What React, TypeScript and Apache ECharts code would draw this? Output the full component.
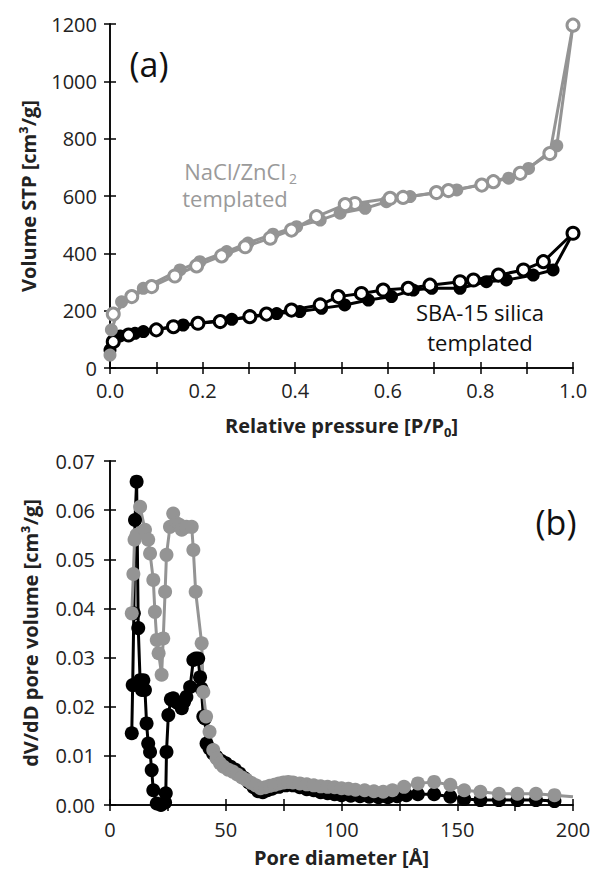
import React, { useEffect, useRef } from 'react';
import * as echarts from 'echarts';

// ---------- Panel (a): isotherms ----------
const xTicksA = [0, 0.2, 0.4, 0.6, 0.8, 1.0];
const yTicksA = [0, 200, 400, 600, 800, 1000, 1200];

const naclAdsP = [0, 0.003, 0.025, 0.072, 0.151, 0.194, 0.252, 0.298, 0.352, 0.403, 0.454, 0.497, 0.551, 0.597, 0.648, 0.749, 0.861, 0.904, 0.965, 1.0];
const naclAdsV = [45, 133, 231, 278, 342, 371, 406, 436, 467, 493, 516, 540, 557, 580, 598, 621, 662, 696, 775, 1196];
const naclDesP = [1.0, 0.95, 0.886, 0.828, 0.803, 0.731, 0.705, 0.633, 0.605, 0.529, 0.508, 0.446, 0.392, 0.346, 0.292, 0.241, 0.187, 0.14, 0.09, 0.047, 0.007];
const naclDesV = [1196, 748, 679, 650, 638, 619, 612, 595, 592, 574, 570, 528, 481, 453, 423, 391, 356, 321, 284, 249, 188];

const sbaAdsP = [0, 0.022, 0.054, 0.072, 0.158, 0.263, 0.36, 0.41, 0.457, 0.507, 0.558, 0.608, 0.655, 0.695, 0.756, 0.813, 0.856, 0.914, 0.957, 1.0];
const sbaAdsV = [63, 112, 121, 127, 150, 170, 190, 197, 208, 220, 237, 249, 272, 278, 278, 301, 307, 324, 342, 470];
const sbaDesP = [1.0, 0.936, 0.893, 0.839, 0.785, 0.756, 0.691, 0.644, 0.59, 0.543, 0.493, 0.454, 0.392, 0.338, 0.302, 0.238, 0.19, 0.137, 0.1, 0.04, 0.007];
const sbaDesV = [470, 371, 342, 324, 307, 301, 289, 278, 272, 260, 249, 220, 202, 188, 179, 162, 156, 144, 133, 115, 92];

// ---------- Panel (b): pore size distributions ----------
const xTicksB = [0, 50, 100, 150, 200];
const yTicksB = [0, 0.01, 0.02, 0.03, 0.04, 0.05, 0.06, 0.07];

const sbaD = [9.4, 9.8, 10.3, 10.8, 11.5, 12.2, 13, 13.8, 14.4, 15.1, 15.8, 16.5, 17.3, 18, 18.7, 20.2, 22, 23.8, 24.1, 24.4, 25.2, 26.3, 27.3, 28.4, 29.5, 31, 32, 33, 34.6, 36, 37, 38.1, 38.9, 39.5, 40.3, 41, 41.7, 43, 44.5, 46, 48, 50, 52, 54, 56, 58, 60, 62, 64, 66, 68, 70, 73, 76, 79, 82, 85, 88, 91, 94, 97, 100, 104, 108, 112, 116, 120, 124, 128, 133, 140, 147, 153, 160, 168, 176, 184, 192];
const sbaDV = [0.0146, 0.0244, 0.039, 0.058, 0.0658, 0.036, 0.0254, 0.0234, 0.0254, 0.0234, 0.0166, 0.0125, 0.0108, 0.0071, 0.003, 0.0003, 0, 0.0005, 0.0024, 0.0108, 0.0183, 0.0215, 0.0217, 0.021, 0.0207, 0.0197, 0.021, 0.022, 0.024, 0.0295, 0.0298, 0.0298, 0.026, 0.0237, 0.018, 0.0176, 0.0125, 0.0115, 0.0105, 0.0098, 0.009, 0.0085, 0.0078, 0.0072, 0.0064, 0.0055, 0.0046, 0.0036, 0.0028, 0.0026, 0.003, 0.0033, 0.0037, 0.004, 0.004, 0.0036, 0.0032, 0.003, 0.0026, 0.0024, 0.0022, 0.002, 0.0019, 0.0018, 0.0017, 0.0016, 0.0016, 0.0018, 0.002, 0.0022, 0.0022, 0.0017, 0.0012, 0.001, 0.001, 0.001, 0.001, 0.0008];

const naclD = [9.4, 10.1, 10.6, 11.5, 13, 15.1, 16.5, 17.3, 18.7, 19.4, 20.2, 21, 22.3, 23, 23.8, 24.4, 25.9, 27.3, 28.8, 30, 31, 33, 35.3, 36, 37, 39.6, 40.3, 41.5, 43, 44.6, 46, 47.5, 49, 51, 53, 55, 57, 59, 61, 63, 65, 67, 69, 71, 73, 75, 77, 79, 82, 85, 88, 91, 94, 97, 100, 103, 106, 110, 114, 118, 122, 127, 133, 140, 147, 153, 160, 168, 176, 184, 192, 200];
const naclDV = [0.039, 0.047, 0.054, 0.055, 0.0607, 0.056, 0.054, 0.0512, 0.0458, 0.0393, 0.0336, 0.0309, 0.0265, 0.0339, 0.0434, 0.0509, 0.0566, 0.0593, 0.0573, 0.057, 0.056, 0.0566, 0.0566, 0.0519, 0.0434, 0.0329, 0.023, 0.018, 0.0149, 0.0112, 0.0095, 0.0085, 0.0078, 0.0072, 0.0068, 0.0062, 0.0056, 0.0051, 0.0045, 0.004, 0.0034, 0.0036, 0.0039, 0.0041, 0.0044, 0.0046, 0.0047, 0.0046, 0.0044, 0.0042, 0.004, 0.0038, 0.0037, 0.0036, 0.0034, 0.0033, 0.0031, 0.003, 0.0028, 0.0027, 0.003, 0.0037, 0.0044, 0.0047, 0.0041, 0.003, 0.0027, 0.0023, 0.0023, 0.0023, 0.002, 0.0017];

const GRAY = '#949494';
const BLACK = '#000000';
const FONT = 'Open Sans';

const zip = (xs: number[], ys: number[]) => xs.map((x, i) => [x, ys[i]]);

export default function App() {
  const ref = useRef<HTMLDivElement>(null);
  useEffect(() => {
    document.body.style.margin = '0';
    const chart = echarts.init(ref.current!, null, { renderer: 'svg' });

    const tick = { show: true, inside: true, length: 6, lineStyle: { color: '#000', width: 1.5 } };
    const line = { show: true, lineStyle: { color: '#000', width: 1.5 } };
    const lbl = { color: '#222', fontSize: 20, fontFamily: FONT };

    const mirror = (kind: 'x' | 'y', gridIndex: number, min: number, max: number, interval: number) => ({
      type: 'value', gridIndex, min, max, interval,
      position: kind === 'x' ? 'top' : 'right',
      axisLine: line, axisTick: tick, axisLabel: { show: false }, splitLine: { show: false },
    });

    const openSeries = (name: string, data: number[][], color: string, xi: number, yi: number) => ({
      name, type: 'line', xAxisIndex: xi, yAxisIndex: yi, data, symbol: 'circle', symbolSize: 12,
      clip: false,
      lineStyle: { color, width: 3 },
      itemStyle: { color: '#ffffff', borderColor: color, borderWidth: 3 },
    });
    const filledSeries = (name: string, data: any[], color: string, xi: number, yi: number, size = 13) => ({
      name, type: 'line', xAxisIndex: xi, yAxisIndex: yi, data, symbol: 'circle', symbolSize: size,
      clip: false,
      lineStyle: { color, width: 3 },
      itemStyle: { color, borderColor: color, borderWidth: 0 },
    });

    const naclPsd = zip(naclD, naclDV).map((d, i, arr) => (i === arr.length - 1 ? { value: d, symbol: 'none' } : d));

    const grayText = '#9a9a9a';

    const option: any = {
      animation: false,
      textStyle: { fontFamily: FONT },
      grid: [
        { left: 110, right: 21, top: 24, height: 344 },
        { left: 110, right: 21, top: 461, height: 344 },
      ],
      xAxis: [
        {
          type: 'value', gridIndex: 0, min: xTicksA[0], max: xTicksA[xTicksA.length - 1], interval: 0.1,
          axisLine: line, axisTick: tick, splitLine: { show: false },
          axisLabel: { ...lbl, margin: 12, formatter: (v: number) => (Math.round(v * 10) % 2 === 0 ? v.toFixed(1) : '') },
          name: '{b|Relative pressure [P/P}{s|0}{b|]}', nameLocation: 'middle', nameGap: 44,
          nameTextStyle: {
            rich: {
              b: { fontSize: 20, fontWeight: 'bold', fontFamily: FONT, color: '#222', lineHeight: 26 },
              s: { fontSize: 13, fontWeight: 'bold', fontFamily: FONT, color: '#222', verticalAlign: 'bottom' },
            },
          },
        },
        mirror('x', 0, 0, 1, 0.1),
        {
          type: 'value', gridIndex: 1, min: xTicksB[0], max: xTicksB[xTicksB.length - 1], interval: 25,
          axisLine: line, axisTick: tick, splitLine: { show: false },
          axisLabel: { ...lbl, margin: 14, formatter: (v: number) => (Math.round(v) % 50 === 0 ? String(v) : '') },
          name: 'Pore diameter [Å]', nameLocation: 'middle', nameGap: 42,
          nameTextStyle: { fontSize: 20, fontWeight: 'bold', fontFamily: FONT, color: '#222' },
        },
        mirror('x', 1, 0, 200, 25),
      ],
      yAxis: [
        {
          type: 'value', gridIndex: 0, min: yTicksA[0], max: yTicksA[yTicksA.length - 1], interval: 200,
          axisLine: line, axisTick: tick, splitLine: { show: false },
          axisLabel: { ...lbl, margin: 13, formatter: (v: number) => String(v) },
          name: 'Volume STP [cm³/g]', nameLocation: 'middle', nameGap: 72,
          nameTextStyle: { fontSize: 20, fontWeight: 'bold', fontFamily: FONT, color: '#222' },
        },
        mirror('y', 0, 0, 1200, 200),
        {
          type: 'value', gridIndex: 1, min: yTicksB[0], max: yTicksB[yTicksB.length - 1], interval: 0.01,
          axisLine: line, axisTick: tick, splitLine: { show: false },
          axisLabel: { ...lbl, margin: 15, formatter: (v: number) => v.toFixed(2) },
          name: 'dV/dD pore volume [cm³/g]', nameLocation: 'middle', nameGap: 70,
          nameTextStyle: { fontSize: 20, fontWeight: 'bold', fontFamily: FONT, color: '#222' },
        },
        mirror('y', 1, 0, 0.07, 0.01),
      ],
      series: [
        filledSeries('SBA-15 adsorption', zip(sbaAdsP, sbaAdsV), BLACK, 0, 0),
        openSeries('SBA-15 desorption', zip(sbaDesP, sbaDesV), BLACK, 0, 0),
        filledSeries('NaCl/ZnCl2 adsorption', zip(naclAdsP, naclAdsV), GRAY, 0, 0),
        openSeries('NaCl/ZnCl2 desorption', zip(naclDesP, naclDesV), GRAY, 0, 0),
        filledSeries('SBA-15 PSD', zip(sbaD, sbaDV), BLACK, 2, 2, 14),
        filledSeries('NaCl/ZnCl2 PSD', naclPsd, GRAY, 2, 2, 14),
      ],
      graphic: [
        { type: 'text', x: 149, y: 64, style: { text: '(a)', font: `34px "${FONT}"`, fill: '#111', align: 'center', verticalAlign: 'middle' } },
        { type: 'text', x: 556, y: 522, style: { text: '(b)', font: `34px "${FONT}"`, fill: '#111', align: 'center', verticalAlign: 'middle' } },
        { type: 'text', x: 286, y: 171, style: { text: 'NaCl/ZnCl', font: `22px "${FONT}"`, fill: grayText, align: 'right', verticalAlign: 'middle' } },
        { type: 'text', x: 289, y: 178, style: { text: '2', font: `14px "${FONT}"`, fill: grayText, align: 'left', verticalAlign: 'middle' } },
        { type: 'text', x: 235, y: 198, style: { text: 'templated', font: `22px "${FONT}"`, fill: grayText, align: 'center', verticalAlign: 'middle' } },
        {
          type: 'text', x: 480, y: 327,
          style: {
            text: 'SBA-15 silica\ntemplated', align: 'center', verticalAlign: 'middle', fill: '#111',
            font: `22px "${FONT}"`, lineHeight: 30,
          },
        },
      ],
    };
    chart.setOption(option);
    return () => chart.dispose();
  }, []);
  return <div ref={ref} style={{ width: 594, height: 870 }} />;
}
